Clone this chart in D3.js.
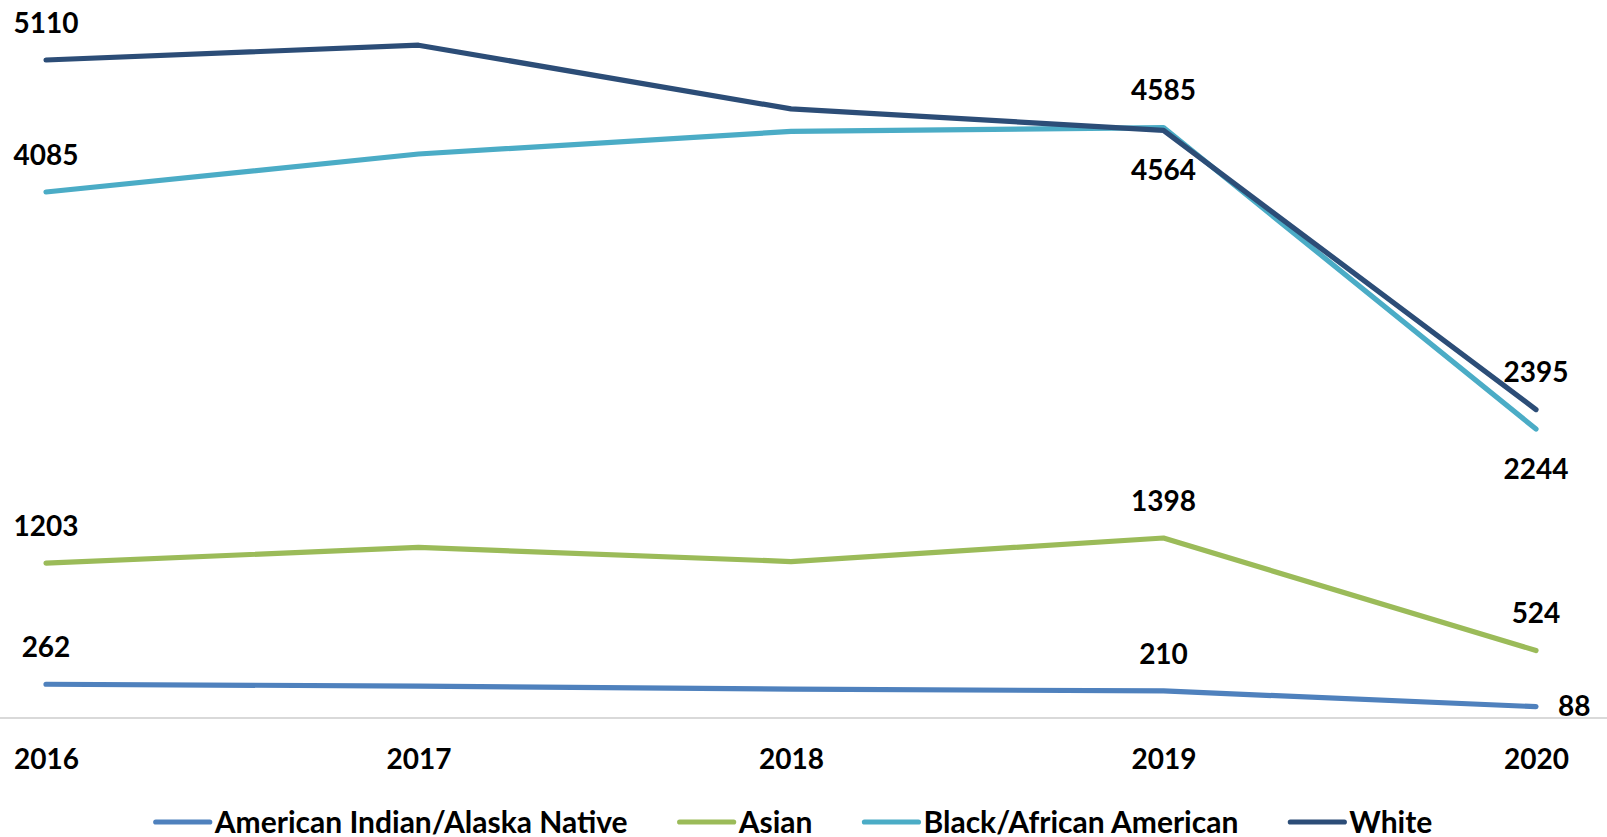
<!DOCTYPE html>
<html>
<head>
<meta charset="utf-8">
<script src="https://cdn.jsdelivr.net/npm/d3@7"></script>
<style>
  html, body { margin: 0; padding: 0; background: #fff; }
  svg { display: block; }
  text { font-family: "Lato", "Noto Sans", sans-serif; font-weight: 700; fill: #000; }
</style>
</head>
<body>
<svg id="chart" width="1607" height="837"></svg>
<script>
// ---- data ----
const years = ["2016", "2017", "2018", "2019", "2020"];
const seriesNames = ["American Indian/Alaska Native", "Asian", "Black/African American", "White"];
const americanIndian = [262, 248, 224, 210, 88];
const asian = [1203, 1325, 1215, 1398, 524];
const black = [4085, 4380, 4555, 4585, 2244];
const white = [5110, 5225, 4730, 4564, 2395];
// which year indices get a value label
const labelledIdx = [0, 3, 4];

const seriesValues = [americanIndian, asian, black, white];
const colors = ["#4f81bd", "#9bbb59", "#4bacc6", "#2c4d77"];
// label placement per series per labelled year: "above", "below", "right"
const placement = [
  ["above", "above", "right"],
  ["above", "above", "above"],
  ["above", "above", "below"],
  ["above", "below", "above"]
];

const W = 1607, H = 837;
const svg = d3.select("#chart");

const x = d3.scalePoint().domain(years).range([46, 1536]);
const y = d3.scaleLinear().domain([0, 5110]).range([718, 60]);

// axis baseline
svg.append("line")
  .attr("x1", 0).attr("x2", W)
  .attr("y1", y(0)).attr("y2", y(0))
  .attr("stroke", "#d9d9d9").attr("stroke-width", 2);

// x axis labels
const xAxis = d3.axisBottom(x).tickSize(0).tickPadding(0);
const gx = svg.append("g").attr("transform", `translate(0, ${y(0)})`).call(xAxis);
gx.select(".domain").remove();
gx.selectAll("text")
  .attr("y", 41).attr("dy", "0.35em")
  .style("font-family", "Lato, 'Noto Sans', sans-serif")
  .style("font-weight", 700)
  .style("font-size", "28px")
  .attr("fill", "#000");

// lines
const line = d3.line().x((d, i) => x(years[i])).y(d => y(d));
svg.append("g").selectAll("path")
  .data(seriesValues)
  .join("path")
  .attr("d", d => line(d))
  .attr("fill", "none")
  .attr("stroke", (d, i) => colors[i])
  .attr("stroke-width", 5.2)
  .attr("stroke-linecap", "round")
  .attr("stroke-linejoin", "round");

// value labels
const labelData = [];
seriesValues.forEach((vals, s) => {
  labelledIdx.forEach((yi, k) => {
    labelData.push({ v: vals[yi], year: years[yi], pos: placement[s][k] });
  });
});
svg.append("g").selectAll("text")
  .data(labelData)
  .join("text")
  .attr("x", d => d.pos === "right" ? x(d.year) + 22 : x(d.year))
  .attr("y", d => d.pos === "above" ? y(d.v) - 37 : d.pos === "below" ? y(d.v) + 40 : y(d.v))
  .attr("dy", "0.35em")
  .attr("text-anchor", d => d.pos === "right" ? "start" : "middle")
  .style("font-size", "28px")
  .text(d => d.v);

// legend
const legend = svg.append("g");
const items = legend.selectAll("g").data(seriesNames).join("g");
items.append("line")
  .attr("x1", 0).attr("x2", 54).attr("y1", 0).attr("y2", 0)
  .attr("stroke", (d, i) => colors[i]).attr("stroke-width", 5.2)
  .attr("stroke-linecap", "round");
items.append("text")
  .attr("x", 59).attr("y", 0).attr("dy", "0.35em")
  .style("font-size", "30px")
  .text(d => d);
let cx = 0;
items.each(function() {
  const g = d3.select(this);
  g.attr("transform", `translate(${cx}, 0)`);
  const w = 59 + g.select("text").node().getComputedTextLength();
  cx += w + 52;
});
const totalW = cx - 52;
legend.attr("transform", `translate(${794 - totalW / 2}, 822)`);
</script>
</body>
</html>
